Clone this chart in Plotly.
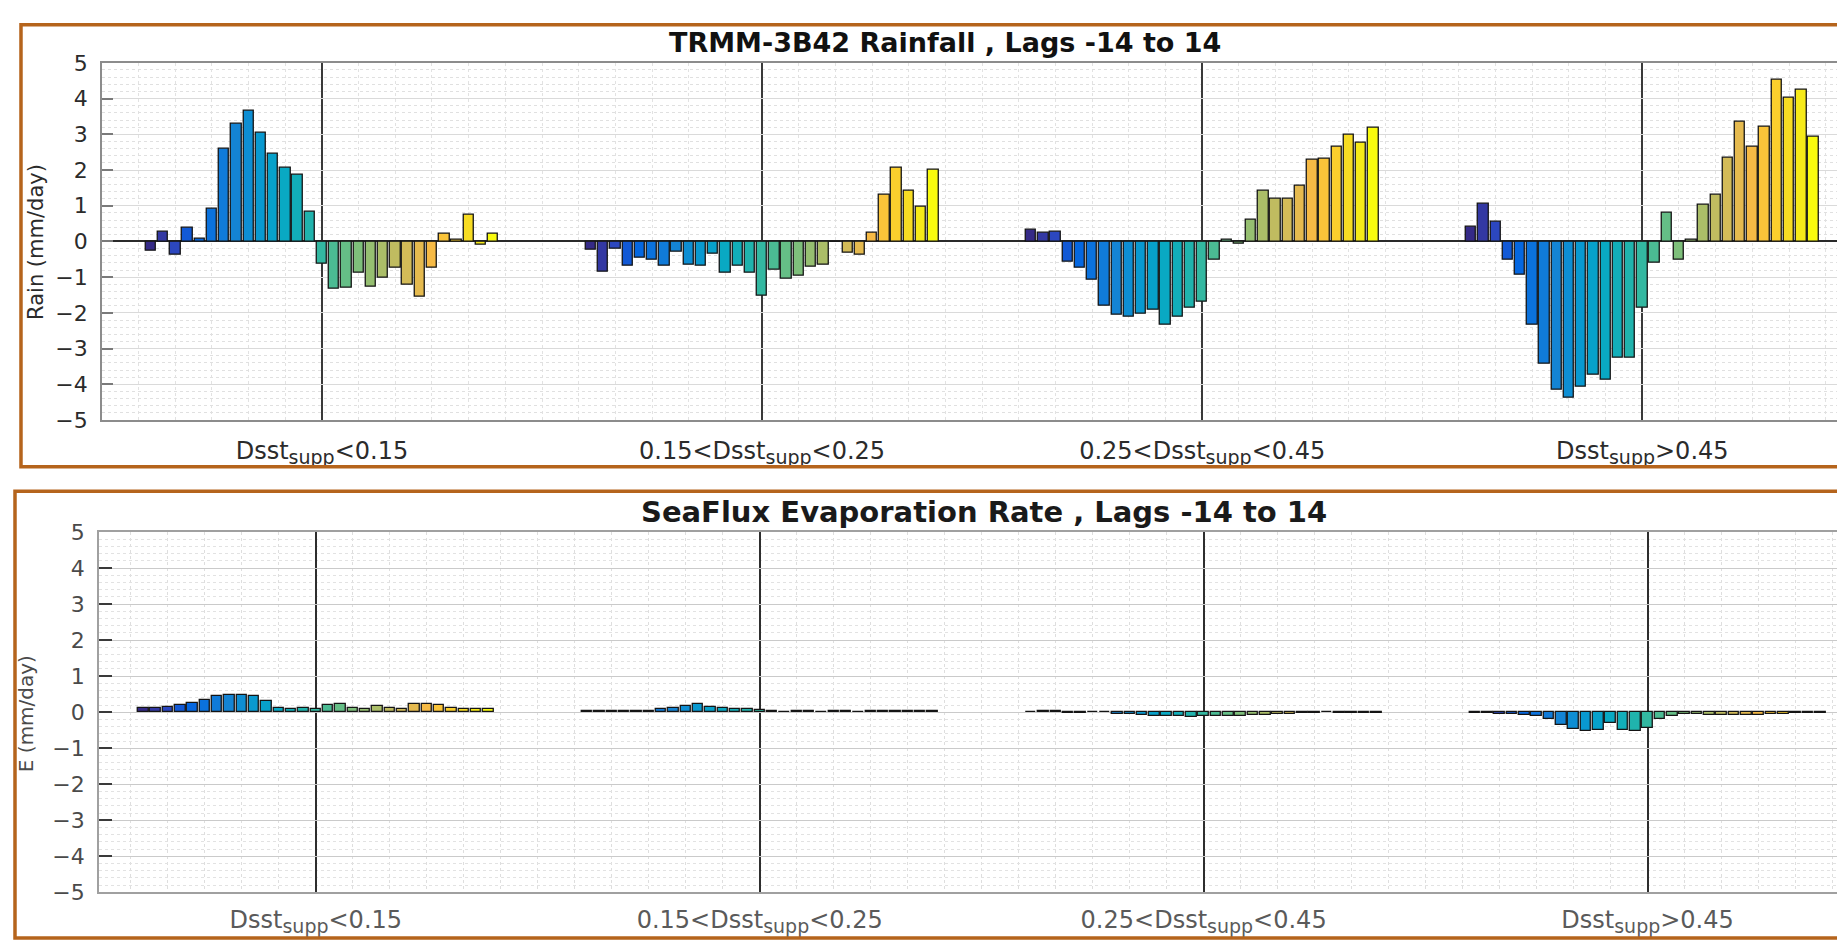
import plotly.graph_objects as go

# ---------------- data ----------------
lags = list(range(-14, 15))
group_centers = [15, 51, 87, 123]
sub_style = "<sub><span style='font-size:19px'>supp</span></sub>"
group_labels = [
    "Dsst" + sub_style + "&lt;0.15",
    "0.15&lt;Dsst" + sub_style + "&lt;0.25",
    "0.25&lt;Dsst" + sub_style + "&lt;0.45",
    "Dsst" + sub_style + "&gt;0.45",
]
y_ticks = [-5, -4, -3, -2, -1, 0, 1, 2, 3, 4, 5]

rain_lt015 = [-0.26, 0.28, -0.38, 0.39, 0.07, 0.92, 2.6, 3.3, 3.66, 3.03, 2.45, 2.05, 1.87, 0.82,
              -0.63, -1.32, -1.29, -0.88, -1.26, -1.02, -0.75, -1.2, -1.56, -0.75, 0.21, 0.04, 0.75, -0.08, 0.21]
rain_015_025 = [-0.22, -0.86, -0.2, -0.68, -0.45, -0.5, -0.68, -0.3, -0.65, -0.68, -0.35, -0.88, -0.68, -0.88,
                -1.52, -0.8, -1.05, -0.95, -0.72, -0.65, 0.0, -0.32, -0.38, 0.25, 1.3, 2.07, 1.42, 0.96, 2.0]
rain_025_045 = [0.32, 0.25, 0.28, -0.56, -0.75, -1.06, -1.8, -2.05, -2.1, -2.02, -1.9, -2.34, -2.1, -1.85,
                -1.7, -0.5, 0.06, -0.06, 0.6, 1.42, 1.18, 1.2, 1.55, 2.28, 2.32, 2.65, 2.98, 2.75, 3.19]
rain_gt045 = [0.42, 1.06, 0.55, -0.5, -0.93, -2.34, -3.43, -4.14, -4.38, -4.08, -3.72, -3.88, -3.27, -3.27,
              -1.85, -0.6, 0.81, -0.5, 0.05, 1.03, 1.3, 2.33, 3.35, 2.65, 3.2, 4.52, 4.02, 4.24, 2.94]

evap_lt015 = [0.12, 0.12, 0.14, 0.2, 0.25, 0.35, 0.45, 0.47, 0.48, 0.45, 0.3, 0.12, 0.1, 0.12,
              0.1, 0.2, 0.22, 0.12, 0.1, 0.18, 0.12, 0.1, 0.22, 0.22, 0.2, 0.12, 0.1, 0.1, 0.08]
evap_015_025 = [0.03, 0.03, 0.03, 0.03, 0.03, 0.04, 0.08, 0.12, 0.18, 0.22, 0.15, 0.12, 0.1, 0.08,
                0.05, 0.03, 0.0, 0.03, 0.03, 0.0, 0.03, 0.03, 0.0, 0.03, 0.03, 0.03, 0.03, 0.03, 0.03]
evap_025_045 = [0.0, 0.04, 0.03, -0.03, -0.03, 0.0, 0.0, -0.05, -0.06, -0.08, -0.1, -0.1, -0.12, -0.13,
                -0.12, -0.1, -0.1, -0.1, -0.08, -0.08, -0.06, -0.05, -0.03, -0.03, 0.0, -0.03, -0.03, -0.03, -0.03]
evap_gt045 = [-0.03, -0.03, -0.04, -0.05, -0.08, -0.12, -0.2, -0.35, -0.48, -0.52, -0.5, -0.3, -0.5, -0.52,
              -0.45, -0.2, -0.1, -0.04, -0.06, -0.07, -0.08, -0.08, -0.08, -0.07, -0.06, -0.04, -0.03, -0.03, -0.03]

rain_groups = [rain_lt015, rain_015_025, rain_025_045, rain_gt045]
evap_groups = [evap_lt015, evap_015_025, evap_025_045, evap_gt045]

# parula colormap (MATLAB), every 4th row of the 64-row table
parula_pos = [0, 4, 8, 12, 16, 20, 24, 28, 32, 36, 40, 44, 48, 52, 56, 60, 63]
parula_rgb = [
    (0.2081, 0.1663, 0.5292), (0.1959, 0.2645, 0.7279), (0.0117, 0.3875, 0.8820),
    (0.0498, 0.4586, 0.8641), (0.0793, 0.5200, 0.8312), (0.0343, 0.5966, 0.8199),
    (0.0228, 0.6535, 0.7768), (0.0843, 0.6928, 0.7062), (0.2178, 0.7250, 0.6193),
    (0.3953, 0.7459, 0.5244), (0.5709, 0.7485, 0.4494), (0.7184, 0.7411, 0.3905),
    (0.8507, 0.7299, 0.3360), (0.9739, 0.7314, 0.2666), (0.9880, 0.8066, 0.1794),
    (0.9589, 0.8949, 0.1132), (0.9763, 0.9831, 0.0538),
]


def cmap(t):
    r = t * 63
    for i in range(len(parula_pos) - 1):
        if parula_pos[i] <= r <= parula_pos[i + 1]:
            f = (r - parula_pos[i]) / (parula_pos[i + 1] - parula_pos[i])
            a, b = parula_rgb[i], parula_rgb[i + 1]
            c = [a[k] + (b[k] - a[k]) * f for k in range(3)]
            return "rgb(%d,%d,%d)" % tuple(round(255 * v) for v in c)
    c = parula_rgb[-1]
    return "rgb(%d,%d,%d)" % tuple(round(255 * v) for v in c)


bar_colors = [cmap(i / (len(lags) - 1)) for i in range(len(lags))]

W, H = 1845, 946
fig = go.Figure()

for axis_suffix, groups in (("", rain_groups), ("2", evap_groups)):
    for gc, vals in zip(group_centers, groups):
        fig.add_trace(go.Bar(
            x=[gc + l for l in lags], y=vals, width=0.85,
            marker=dict(color=bar_colors, line=dict(color="#141414", width=1.3)),
            xaxis="x" + axis_suffix, yaxis="y" + axis_suffix, showlegend=False,
        ))

common_x = dict(
    tickmode="array", tickvals=group_centers, ticktext=group_labels,
    ticks="", showline=True, mirror=True, linewidth=1.5,
    zeroline=False, fixedrange=True,
)
common_y = dict(
    tickmode="array", tickvals=y_ticks, range=[-5, 5], ticks="inside",
    showline=True, mirror="ticks", linewidth=1.5, ticklabelstandoff=8,
)

fig.update_layout(
    width=W, height=H,
    margin=dict(l=0, r=0, t=0, b=0),
    paper_bgcolor="white", plot_bgcolor="white",
    bargap=0,
    xaxis=dict(
        **common_x, domain=[94 / W, 1], range=[-3, 140.07], anchor="y",
        showgrid=True, gridcolor="#3a3a3a", gridwidth=1.6, linecolor="#8c8c8c",
        tickfont=dict(family="DejaVu Sans", size=24, color="#2b2b2b"), ticklabelstandoff=8,
        minor=dict(tick0=0, dtick=3, showgrid=True, gridcolor="#e2e2e2", griddash="dot", gridwidth=1),
    ),
    yaxis=dict(
        **common_y, domain=[1 - 411 / H, 1 - 44 / H], anchor="x",
        showgrid=True, gridcolor="#dadada", gridwidth=1, linecolor="#8c8c8c",
        tickcolor="#7a7a7a", ticklen=11, tickwidth=1.5,
        zeroline=True, zerolinecolor="#2a2a2a", zerolinewidth=1.6,
        tickfont=dict(family="DejaVu Sans", size=22, color="#2b2b2b"),
        minor=dict(dtick=0.2, showgrid=True, gridcolor="#e0e0e0", griddash="dot", gridwidth=1),
    ),
    xaxis2=dict(
        **common_x, domain=[91 / W, 1], range=[-2.59, 139.5], anchor="y2",
        showgrid=True, gridcolor="#2e2e2e", gridwidth=2, linecolor="#a0a0a0",
        tickfont=dict(family="DejaVu Sans", size=24, color="#5a5a5a"), ticklabelstandoff=5,
        minor=dict(tick0=0, dtick=3, showgrid=True, gridcolor="#dedede", griddash="dot", gridwidth=1),
    ),
    yaxis2=dict(
        **common_y, domain=[1 - 896 / H, 1 - 526 / H], anchor="x2",
        showgrid=True, gridcolor="#cacaca", gridwidth=1.2, linecolor="#a0a0a0",
        tickcolor="#3a3a3a", ticklen=13, tickwidth=2,
        zeroline=False,
        tickfont=dict(family="DejaVu Sans", size=22, color="#4a4a4a"),
        minor=dict(dtick=0.2, showgrid=True, gridcolor="#e2e2e2", griddash="dot", gridwidth=1),
    ),
    shapes=[
        dict(type="rect", xref="paper", yref="paper", x0=13 / W, x1=1.02, y0=1 - 459 / H, y1=1 - 5 / H,
             line=dict(color="#b5641c", width=3.5), fillcolor="rgba(0,0,0,0)", layer="above"),
        dict(type="rect", xref="paper", yref="paper", x0=7 / W, x1=1.02, y0=1 - 943 / H, y1=1 - 484 / H,
             line=dict(color="#b5641c", width=3.5), fillcolor="rgba(0,0,0,0)", layer="above"),
    ],
    annotations=[
        dict(text="<b>TRMM-3B42 Rainfall , Lags -14 to 14</b>", xref="paper", yref="paper",
             x=938 / W, y=1 - 23 / H, xanchor="center", yanchor="middle", showarrow=False,
             font=dict(family="DejaVu Sans", size=27, color="#111111")),
        dict(text="<b>SeaFlux Evaporation Rate , Lags -14 to 14</b>", xref="paper", yref="paper",
             x=977 / W, y=1 - 505 / H, xanchor="center", yanchor="middle", showarrow=False,
             font=dict(family="DejaVu Sans", size=29, color="#1a1a1a")),
        dict(text="Rain (mm/day)", xref="paper", yref="paper", x=28 / W, y=1 - 228 / H,
             xanchor="center", yanchor="middle", textangle=-90, showarrow=False,
             font=dict(family="DejaVu Sans", size=21, color="#2b2b2b")),
        dict(text="E (mm/day)", xref="paper", yref="paper", x=18 / W, y=1 - 712 / H,
             xanchor="center", yanchor="middle", textangle=-90, showarrow=False,
             font=dict(family="DejaVu Sans", size=20, color="#4a4a4a")),
    ],
)

fig.write_html("out.html")
